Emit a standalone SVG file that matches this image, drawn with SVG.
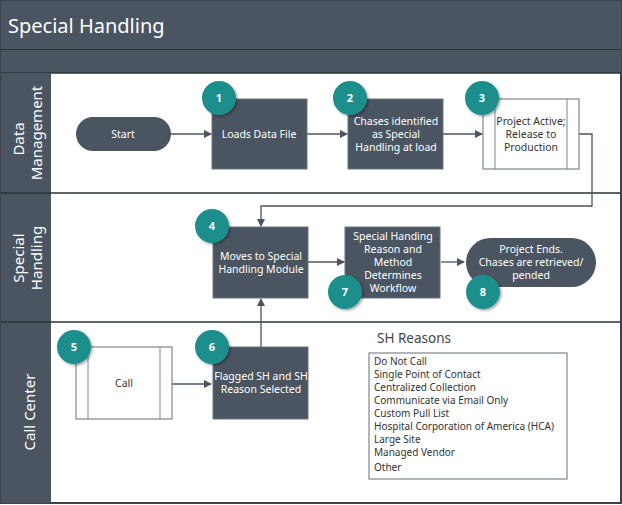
<svg xmlns="http://www.w3.org/2000/svg" width="622" height="505" viewBox="0 0 622 505">
<defs>
<marker id="ah" markerWidth="8" markerHeight="8" refX="7" refY="4" orient="auto" markerUnits="userSpaceOnUse"><path d="M0,0 L8,4 L0,8 z" fill="#4a5561"/></marker>
<filter id="sh" x="-30%" y="-30%" width="160%" height="160%"><feDropShadow dx="1.5" dy="1.5" stdDeviation="1.2" flood-color="#000" flood-opacity="0.35"/></filter>
</defs>
<style>
text{font-family:"Noto Sans","Open Sans",sans-serif}
.dk{fill:#4a5561}
.box{fill:#4a5561;stroke:#6b7580;stroke-width:1}
.wb{fill:#fff;stroke:#7f868e;stroke-width:1.2}
.t{fill:#fff;font-size:10.5px;text-anchor:middle}
.tk{fill:#333;font-size:10.5px;text-anchor:middle}
.c{fill:#1f8f8c;filter:url(#sh)}
.n{fill:#fff;font-size:11px;font-weight:bold;text-anchor:middle}
.ln{fill:#fff;font-size:15px;text-anchor:middle}
.conn{stroke:#4a5561;stroke-width:1.3;fill:none;marker-end:url(#ah)}
.li{fill:#333;font-size:10px}
</style>
<rect x="0" y="0" width="622" height="505" fill="#fff"/>
<rect x="1" y="1" width="620" height="502" fill="#fff" stroke="#3a434c" stroke-width="2"/>
<rect class="dk" x="1" y="1" width="620" height="48"/>
<text x="8" y="33" fill="#fff" font-size="20" style="font-family:'Noto Sans','Open Sans',sans-serif">Special Handling</text>
<rect class="dk" x="1" y="50" width="620" height="23"/>
<line x1="1" y1="49.5" x2="621" y2="49.5" stroke="#2b3238" stroke-width="1"/>
<line x1="1" y1="73" x2="621" y2="73" stroke="#2b3238" stroke-width="1.5"/>
<rect class="dk" x="1" y="73" width="50" height="430"/>
<line x1="1" y1="193" x2="621" y2="193" stroke="#2b3238" stroke-width="1.5"/>
<line x1="1" y1="322" x2="621" y2="322" stroke="#2b3238" stroke-width="1.5"/>
<text class="ln" transform="translate(30,133) rotate(-90)" x="-6" y="-6">Data</text>
<text class="ln" transform="translate(30,133) rotate(-90)" x="0" y="12">Management</text>
<text class="ln" transform="translate(30,258) rotate(-90)" x="0" y="-6">Special</text>
<text class="ln" transform="translate(30,258) rotate(-90)" x="0" y="12">Handling</text>
<text class="ln" transform="translate(30,412) rotate(-90)" x="0" y="5">Call Center</text>

<g id="connectors">
<path class="conn" d="M171,134 H211"/>
<path class="conn" d="M307,134 H347"/>
<path class="conn" d="M443,134 H482"/>
<path class="conn" d="M579,134 H592 V206 H261 V226"/>
<path class="conn" d="M308,262 H344"/>
<path class="conn" d="M441,262 H464"/>
<path class="conn" d="M172,384 H211"/>
<path class="conn" d="M261,347 V299"/>
</g>

<g id="start"><rect class="dk" x="76" y="117" width="95" height="34" rx="17"/><text class="t" x="123" y="138">Start</text></g>
<g id="n1"><rect class="box" x="212" y="99" width="95" height="70"/><text class="t" x="259" y="138">Loads Data File</text><circle class="c" cx="219" cy="98" r="17"/><text class="n" x="219" y="102">1</text></g>
<g id="n2"><rect class="box" x="348" y="99" width="95" height="70"/><text class="t" x="396" y="125">Chases identified</text><text class="t" x="396" y="138">as Special</text><text class="t" x="396" y="151">Handling at load</text><circle class="c" cx="350" cy="98" r="17"/><text class="n" x="350" y="102">2</text></g>
<g id="n3"><rect class="wb" x="483" y="99" width="96" height="70"/><line x1="495" y1="99" x2="495" y2="169" stroke="#7f868e"/><line x1="567" y1="99" x2="567" y2="169" stroke="#7f868e"/><text class="tk" x="531" y="125">Project Active;</text><text class="tk" x="531" y="138">Release to</text><text class="tk" x="531" y="151">Production</text><circle class="c" cx="482" cy="98" r="17"/><text class="n" x="482" y="102">3</text></g>
<g id="n4"><rect class="box" x="213" y="227" width="95" height="71"/><text class="t" x="261" y="260">Moves to Special</text><text class="t" x="261" y="273">Handling Module</text><circle class="c" cx="212" cy="226" r="17"/><text class="n" x="212" y="230">4</text></g>
<g id="n7"><rect class="box" x="345" y="227" width="95" height="71"/><text class="t" x="393" y="240">Special Handing</text><text class="t" x="393" y="253">Reason and</text><text class="t" x="393" y="266">Method</text><text class="t" x="393" y="279">Determines</text><text class="t" x="393" y="292">Workflow</text><circle class="c" cx="345" cy="292" r="17"/><text class="n" x="345" y="296">7</text></g>
<g id="n8"><rect class="dk" x="466" y="238" width="130" height="49" rx="24.5"/><text class="t" x="531" y="253">Project Ends.</text><text class="t" x="531" y="266">Chases are retrieved/</text><text class="t" x="531" y="279">pended</text><circle class="c" cx="483" cy="292" r="17"/><text class="n" x="483" y="296">8</text></g>
<g id="n5"><rect class="wb" x="76" y="347" width="96" height="72"/><line x1="88" y1="347" x2="88" y2="419" stroke="#7f868e"/><line x1="160" y1="347" x2="160" y2="419" stroke="#7f868e"/><text class="tk" x="124" y="387">Call</text><circle class="c" cx="74" cy="347" r="17"/><text class="n" x="74" y="351">5</text></g>
<g id="n6"><rect class="box" x="213" y="347" width="95" height="72"/><text class="t" x="261" y="380">Flagged SH and SH</text><text class="t" x="261" y="393">Reason Selected</text><circle class="c" cx="212" cy="347" r="17"/><text class="n" x="212" y="351">6</text></g>
<g id="reasons">
<text x="377" y="343" fill="#444" font-size="13.5">SH Reasons</text>
<rect x="369" y="353" width="198" height="126" fill="#fff" stroke="#7f868e" stroke-width="1.2"/>
<text class="li" x="374" y="365">Do Not Call</text>
<text class="li" x="374" y="378">Single Point of Contact</text>
<text class="li" x="374" y="391">Centralized Collection</text>
<text class="li" x="374" y="404">Communicate via Email Only</text>
<text class="li" x="374" y="417">Custom Pull List</text>
<text class="li" x="374" y="430">Hospital Corporation of America (HCA)</text>
<text class="li" x="374" y="443">Large Site</text>
<text class="li" x="374" y="456">Managed Vendor</text>
<text class="li" x="374" y="471">Other</text>
</g>
</svg>
